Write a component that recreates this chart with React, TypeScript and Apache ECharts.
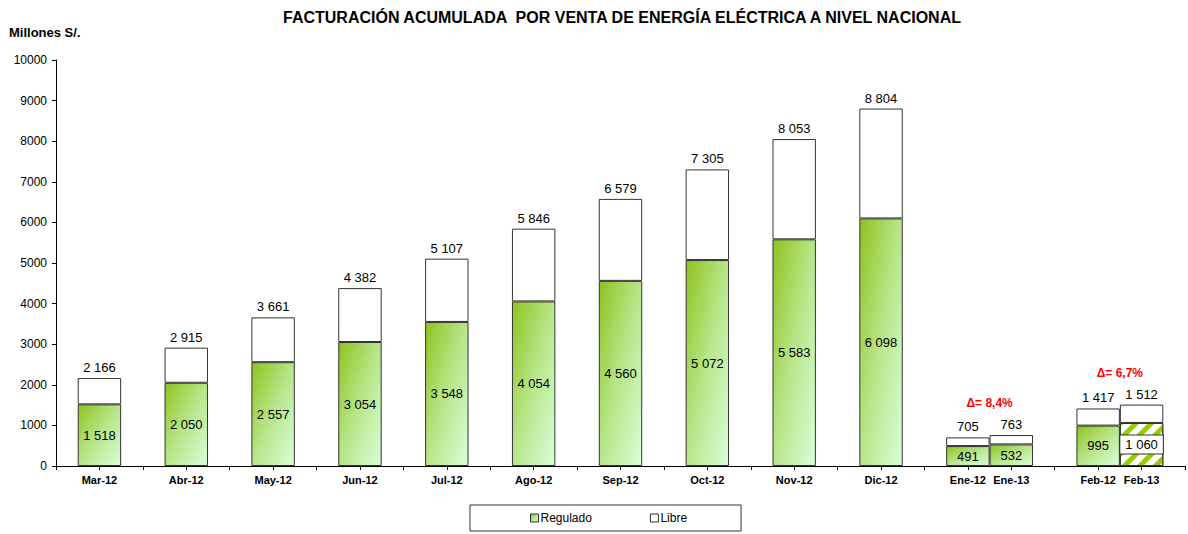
import React, { useEffect, useRef } from "react";
import * as echarts from "echarts";

const categories = ["Mar-12", "Abr-12", "May-12", "Jun-12", "Jul-12", "Ago-12", "Sep-12", "Oct-12", "Nov-12", "Dic-12", "Ene-12", "Ene-13", "Feb-12", "Feb-13"];
// slot of each category on the axis (gaps between groups are empty slots)
const slotIndex = [1, 3, 5, 7, 9, 11, 13, 15, 17, 19, 21, 22, 24, 25];
const slotCount = 27;
const regulado = [1518, 2050, 2557, 3054, 3548, 4054, 4560, 5072, 5583, 6098, 491, 532, 995, 1060];
const libre = [648, 865, 1104, 1328, 1559, 1792, 2019, 2233, 2470, 2706, 214, 231, 422, 452];
const deltaLabels = ["Δ= 8,4%", "Δ= 6,7%"];
const deltaPairs = [[10, 11], [12, 13]];
const hatchedIndex = 13;

const FONT = "'Liberation Sans', Arial, sans-serif";

function fmt(v: number): string {
  if (v >= 1000) {
    return Math.floor(v / 1000) + " " + String(v % 1000).padStart(3, "0");
  }
  return String(v);
}

export default function App() {
  const ref = useRef<HTMLDivElement>(null);
  useEffect(() => {
    if (!ref.current) return;
    const chart = echarts.init(ref.current, undefined, { renderer: "svg" });

    const axisLabels: string[] = new Array(slotCount).fill("");
    const regData: any[] = new Array(slotCount).fill(null);
    const libData: any[] = new Array(slotCount).fill(null);
    const slotToCat: Record<number, number> = {};
    slotIndex.forEach((s, i) => {
      axisLabels[s] = categories[i];
      slotToCat[s] = i;
      if (i === hatchedIndex) {
        regData[s] = {
          value: regulado[i],
          itemStyle: {
            color: "#ffffff",
            decal: {
              symbol: "rect",
              symbolSize: 1,
              color: "#99cc00",
              dashArrayX: [1, 0],
              dashArrayY: [5, 6],
              rotation: -Math.PI / 4,
            },
          },
          label: {
            backgroundColor: "#ffffff",
            borderColor: "#333333",
            borderWidth: 1,
            padding: [3, 5, 2, 5],
          },
        };
      } else {
        regData[s] = regulado[i];
      }
      libData[s] = libre[i];
    });

    const green = new echarts.graphic.LinearGradient(0, 0, 1, 1, [
      { offset: 0, color: "#8fc31f" },
      { offset: 0.5, color: "#b8e68a" },
      { offset: 1, color: "#d9ffd9" },
    ]);

    chart.setOption({
      animation: false,
      backgroundColor: "#ffffff",
      textStyle: { fontFamily: FONT },
      title: [
        {
          text: "FACTURACIÓN ACUMULADA  POR VENTA DE ENERGÍA ELÉCTRICA A NIVEL NACIONAL",
          left: 622,
          textAlign: "center",
          top: 9,
          padding: 0,
          textStyle: { fontSize: 16, fontWeight: "bold", color: "#000", fontFamily: FONT },
        },
        {
          text: "Millones S/.",
          left: 9,
          top: 26,
          padding: 0,
          textStyle: { fontSize: 13, fontWeight: "bold", color: "#000", fontFamily: FONT },
        },
      ],
      legend: {
        left: 470,
        top: 505,
        padding: [7, 54, 7, 60],
        itemGap: 58,
        itemWidth: 8,
        itemHeight: 8,
        itemStyle: { borderColor: "#333", borderWidth: 1 },
        borderColor: "#333",
        borderWidth: 1,
        icon: "rect",
        textStyle: { fontSize: 12, color: "#000", fontFamily: FONT, padding: [0, 0, 0, -3] },
        data: ["Regulado", "Libre"],
      },
      grid: { left: 56, right: 2, top: 60, bottom: 68, containLabel: false },
      xAxis: {
        type: "category",
        boundaryGap: false,
        data: axisLabels,
        axisLine: { lineStyle: { color: "#000", width: 1 } },
        axisTick: { show: true, interval: 0, length: 4, lineStyle: { color: "#000" } },
        axisLabel: { interval: 0, fontSize: 11, fontWeight: "bold", color: "#000", margin: 8, fontFamily: FONT },
      },
      yAxis: {
        type: "value",
        min: 0,
        max: 10000,
        interval: 1000,
        axisLine: { show: true, lineStyle: { color: "#000", width: 1 } },
        axisTick: { show: true, length: 4, lineStyle: { color: "#000" } },
        splitLine: { show: false },
        axisLabel: { fontSize: 12, color: "#000", margin: 9, fontFamily: FONT, formatter: (v: number) => String(v) },
      },
      series: [
        {
          name: "Regulado",
          type: "bar",
          stack: "total",
          barWidth: "100%",
          data: regData,
          itemStyle: { color: green, borderColor: "#333", borderWidth: 1 },
          label: {
            show: true,
            position: "inside",
            fontSize: 13,
            color: "#000",
            fontFamily: FONT,
            formatter: (p: any) => fmt(p.value),
          },
        },
        {
          name: "Libre",
          type: "bar",
          stack: "total",
          barWidth: "100%",
          data: libData,
          itemStyle: { color: "#ffffff", borderColor: "#333", borderWidth: 1 },
          label: {
            show: true,
            position: "top",
            distance: 4,
            fontSize: 13,
            color: "#000",
            fontFamily: FONT,
            formatter: (p: any) => {
              const i = slotToCat[p.dataIndex];
              return fmt(regulado[i] + libre[i]);
            },
          },
        },
      ],
    });

    const graphics = deltaPairs.map((pair, k) => {
      const xa = chart.convertToPixel({ xAxisIndex: 0 }, slotIndex[pair[0]]) as number;
      const xb = chart.convertToPixel({ xAxisIndex: 0 }, slotIndex[pair[1]]) as number;
      const top = Math.max(regulado[pair[0]] + libre[pair[0]], regulado[pair[1]] + libre[pair[1]]);
      const y = chart.convertToPixel({ yAxisIndex: 0 }, top) as number;
      return {
        type: "text",
        x: (xa + xb) / 2,
        y: y - 32,
        style: {
          text: deltaLabels[k],
          fill: "#ff0000",
          font: `bold 12px ${FONT}`,
          align: "center",
          verticalAlign: "middle",
        },
      };
    });
    chart.setOption({ graphic: graphics });

    return () => chart.dispose();
  }, []);

  return (
    <div
      ref={ref}
      style={{ position: "fixed", left: 0, top: 0, width: 1188, height: 534, background: "#fff" }}
    />
  );
}
